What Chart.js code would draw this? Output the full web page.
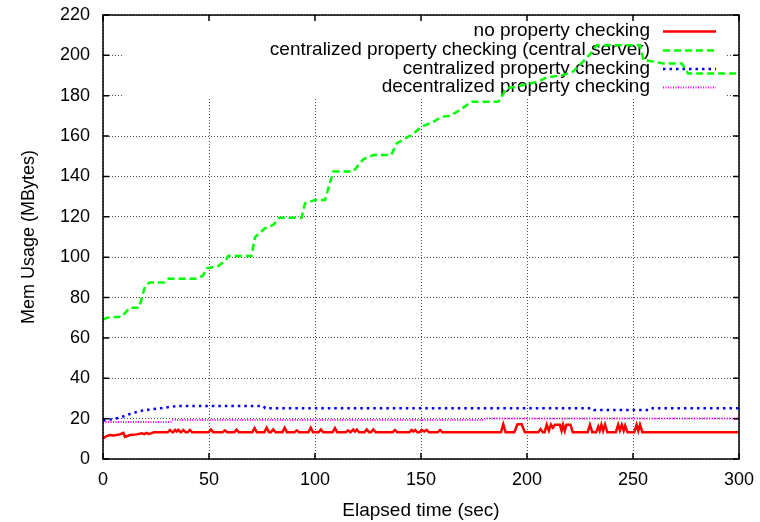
<!DOCTYPE html>
<html>
<head>
<meta charset="utf-8">
<script src="https://cdn.jsdelivr.net/npm/chart.js@4/dist/chart.umd.min.js"></script>
<style>
  html, body { margin: 0; padding: 0; background: #fff; }
  #wrap { width: 760px; height: 522px; }
</style>
</head>
<body>
<div id="wrap"><canvas id="memChart"></canvas></div>
<script>
// Series labels (legend)
const seriesLabels = [
    'no property checking',
    'centralized property checking (central server)',
    'centralized property checking',
    'decentralized property checking'
];

// Axis ticks
const xTicks = [0, 50, 100, 150, 200, 250, 300];
const yTicks = [0, 20, 40, 60, 80, 100, 120, 140, 160, 180, 200, 220];

// no property checking
const noCheckTime = [0, 2, 3.3, 5, 8, 9.6, 10.4, 12.7, 15.9, 18.3, 19.5, 20.5, 21.5, 23, 24,
    30.5, 31.6, 32.7, 33.1, 34, 34.8, 35.5, 36.6, 36.8, 37.9, 39, 39.9, 41, 42.1,
    49.8, 50.9, 52, 56.4, 57.5, 58.6, 61.9, 63, 64.1, 70.4, 71.5, 72.6, 76.1, 77.2, 78.3,
    79.2, 80.3, 81.4, 84.6, 85.7, 86.8, 90.3, 91.4, 92.5, 96.9, 98, 99.1, 101.7, 102.8, 103.9,
    108.3, 109.4, 110.5, 114.5, 115.6, 116.7, 116.9, 118, 118.8, 119.7, 120.8,
    123.3, 124.4, 125.5, 126.4, 127.5, 128.6, 136.6, 137.7, 138.8,
    144.5, 145.6, 146.4, 147.2, 148.3, 149.2, 150.3, 151.5, 152.7, 153.8, 157.9, 159, 160.1,
    187.7, 188.8, 189.9, 194, 195.5, 197.5, 199, 205.3, 206.4, 207.5,
    208.3, 209.3, 210.3, 211.3, 212.2, 213.2, 215.5, 216.3, 217, 217.8, 218.6, 220.5, 221.6,
    228.6, 229.7, 230.8, 232.6, 233.6, 234.3, 235.1, 235.9, 236.8, 237.9,
    241.9, 243, 243.8, 244.7, 245.6, 246.3, 247.4, 250.6, 251.7, 252.5, 253.3, 254.4, 300];
const noCheckMem = [10.2, 11.5, 11.9, 11.7, 12.2, 12.9, 11, 11.9, 12.2, 12.7, 12.3, 12.9, 12.4, 12.8, 13.2,
    13.2, 14.4, 13.2, 13.2, 14.4, 13.6, 14.4, 13.2, 13.2, 14.4, 13.2, 13.2, 14.4, 13.2,
    13.2, 14.6, 13.2, 13.2, 14.2, 13.2, 13.2, 14.5, 13.2, 13.2, 15.3, 13.2, 13.2, 15.5, 13.2,
    13.2, 14.6, 13.2, 13.2, 15.5, 13.2, 13.2, 14.2, 13.2, 13.2, 15.5, 13.2, 13.2, 14.6, 13.2,
    13.2, 15.3, 13.2, 13.2, 14.2, 13.2, 13.2, 14.6, 13.6, 14.6, 13.2,
    13.2, 14.6, 13.2, 13.2, 14.6, 13.2, 13.2, 14.4, 13.2,
    13.2, 14.4, 13.6, 14.4, 13.2, 13.2, 14.4, 13.6, 14.4, 13.2, 13.2, 14.4, 13.2,
    13.2, 17.2, 13.2, 13.2, 17.2, 17.2, 13.2, 13.2, 14.8, 13.2,
    13.2, 17, 14, 17, 15.5, 17, 17, 14, 17, 14, 17, 17, 13.2,
    13.2, 17, 13.2, 13.2, 16, 14, 17, 14, 17, 13.2,
    13.2, 17, 14.2, 17, 14, 16.5, 13.2, 13.2, 17, 14, 17, 13.2, 13.2];

// centralized property checking (central server)
const centralSrvTime = [0, 2, 8.8, 12.7, 17, 19.8, 22, 29, 30.8, 43.4, 47, 49, 54.4, 58, 59, 70,
    71.7, 76.4, 80.3, 83.2, 93.7, 95.3, 100, 104.7, 108.6, 118, 122.8, 127.5, 136, 138.5, 144,
    145.6, 150.3, 155.8, 159.8, 163.7, 168.4, 173.9, 186.5, 190.4, 195, 205.3, 209.3, 217, 221.8,
    229.7, 232.9, 253.3, 254.9, 259.6, 264.3, 273, 276, 300];
const centralSrvMem = [69, 70, 70.5, 75, 75, 85.4, 87.5, 87.5, 89.3, 89.3, 90.7, 94.5, 95.6, 98.6, 100.6, 100.6,
    109.9, 114.3, 116, 119.6, 119.6, 126.7, 128.3, 128.3, 142.4, 142.4, 148.5, 150.6, 150.6, 156.4, 159.7,
    160.5, 164.7, 167.1, 169.6, 170, 173, 177, 177, 183.7, 184.5, 187, 189, 190.3, 192,
    200.5, 205, 205, 197.7, 196.9, 196, 196, 191, 191];

// centralized property checking
const centralTime = [0, 3, 8, 12.7, 17.5, 22, 27, 31.6, 36, 75.6, 76.5, 230.5, 231.5, 257.5, 258.5, 300];
const centralMem = [19, 19.5, 20.5, 22.3, 23.8, 24.5, 25.1, 25.8, 26.3, 26.3, 25.2, 25.2, 24.3, 24.3, 25.2, 25.2];

// decentralized property checking
const decentralTime = [0, 32, 33, 179.5, 180.5, 300];
const decentralMem = [18.3, 18.3, 19.3, 19.3, 20.1, 20.1];

const FONT = '"Liberation Sans", Arial, Helvetica, sans-serif';
const TEXT_SIZE = 19;
const TICK_SIZE = 18;

function toPoints(xs, ys) {
    return xs.map((x, i) => ({ x: x, y: ys[i] }));
}

// keep the plot box where the reference has it, whatever the label overhang
function noOverhang(scale) {
    scale.paddingLeft = 0;
    scale.paddingRight = 0;
    scale.paddingTop = 0;
    scale.paddingBottom = 0;
}

// Gnuplot-like key: blank the grid behind it, then text right-aligned + line sample
const keyPlugin = {
    id: 'gnuKey',
    beforeDatasetsDraw(chart) {
        const { ctx, chartArea: a } = chart;
        const yScale = chart.scales.y;
        ctx.save();
        ctx.fillStyle = '#fff';
        ctx.fillRect(a.left + 19, a.top + 1, (a.right - 12) - (a.left + 19), yScale.getPixelForValue(180) + 1.5 - a.top);
        ctx.font = TEXT_SIZE + 'px ' + FONT;
        ctx.textAlign = 'right';
        ctx.textBaseline = 'middle';
        const rowY = [31, 50, 68.5, 87];
        chart.data.datasets.forEach((ds, i) => {
            ctx.fillStyle = '#000';
            ctx.fillText(ds.label, 650, rowY[i]);
            ctx.strokeStyle = ds.borderColor;
            ctx.lineWidth = ds.borderWidth;
            ctx.setLineDash(ds.borderDash || []);
            ctx.beginPath();
            ctx.moveTo(663, rowY[i] + 0.5);
            ctx.lineTo(716, rowY[i] + 0.5);
            ctx.stroke();
        });
        ctx.restore();
    },
    afterDatasetsDraw(chart) {
        // border and inward mirrored ticks
        const { ctx, chartArea: a } = chart;
        const xs = chart.scales.x, ys = chart.scales.y;
        ctx.save();
        ctx.strokeStyle = '#000';
        ctx.lineWidth = 1.5;
        ctx.setLineDash([]);
        ctx.strokeRect(a.left, a.top, a.right - a.left, a.bottom - a.top);
        ctx.beginPath();
        xTicks.forEach(v => {
            const px = xs.getPixelForValue(v);
            ctx.moveTo(px, a.bottom); ctx.lineTo(px, a.bottom - 6);
            ctx.moveTo(px, a.top); ctx.lineTo(px, a.top + 6);
        });
        yTicks.forEach(v => {
            const py = ys.getPixelForValue(v);
            ctx.moveTo(a.left, py); ctx.lineTo(a.left + 6, py);
            ctx.moveTo(a.right, py); ctx.lineTo(a.right - 6, py);
        });
        ctx.stroke();
        ctx.restore();
    }
};

const gridStyle = {
    color: 'rgba(0,0,0,0.7)',
    lineWidth: 1,
    drawTicks: false
};

new Chart(document.getElementById('memChart'), {
    type: 'line',
    data: {
        datasets: [
            {
                label: seriesLabels[0],
                data: toPoints(noCheckTime, noCheckMem),
                borderColor: '#ff0000',
                borderWidth: 2.5,
                order: 4
            },
            {
                label: seriesLabels[1],
                data: toPoints(centralSrvTime, centralSrvMem),
                borderColor: '#00ff00',
                borderWidth: 2.5,
                borderDash: [7, 4],
                order: 3
            },
            {
                label: seriesLabels[2],
                data: toPoints(centralTime, centralMem),
                borderColor: '#0000ff',
                borderWidth: 2.5,
                borderDash: [2.5, 4],
                order: 2
            },
            {
                label: seriesLabels[3],
                data: toPoints(decentralTime, decentralMem),
                borderColor: '#ff00ff',
                borderWidth: 2,
                borderDash: [1, 1.5],
                order: 1
            }
        ]
    },
    options: {
        responsive: true,
        maintainAspectRatio: false,
        animation: false,
        devicePixelRatio: 1,
        layout: { padding: { top: 15, right: 21, left: 0, bottom: 0 } },
        elements: {
            point: { radius: 0 },
            line: { tension: 0, fill: false }
        },
        plugins: {
            legend: { display: false },
            tooltip: { enabled: false }
        },
        scales: {
            x: {
                type: 'linear',
                min: 0,
                max: 300,
                afterFit: (scale) => { scale.height = 63; noOverhang(scale); },
                afterBuildTicks: (scale) => { scale.ticks = xTicks.map(v => ({ value: v })); },
                grid: Object.assign({}, gridStyle),
                border: { display: false, dash: [1, 2] },
                ticks: { color: '#000', padding: 10, font: { family: FONT, size: TICK_SIZE } },
                title: {
                    display: true,
                    text: 'Elapsed time (sec)',
                    color: '#000',
                    font: { family: FONT, size: TEXT_SIZE },
                    padding: { top: 3, bottom: 0 }
                }
            },
            y: {
                min: 0,
                max: 220,
                afterFit: (scale) => { scale.width = 103; noOverhang(scale); },
                afterBuildTicks: (scale) => { scale.ticks = yTicks.map(v => ({ value: v })); },
                grid: Object.assign({}, gridStyle),
                border: { display: false, dash: [1, 2] },
                ticks: { color: '#000', padding: 13, font: { family: FONT, size: TICK_SIZE } },
                title: {
                    display: true,
                    text: 'Mem Usage (MBytes)',
                    color: '#000',
                    font: { family: FONT, size: 18 },
                    padding: { top: 18, bottom: 0 }
                }
            }
        }
    },
    plugins: [keyPlugin]
});
</script>
</body>
</html>
